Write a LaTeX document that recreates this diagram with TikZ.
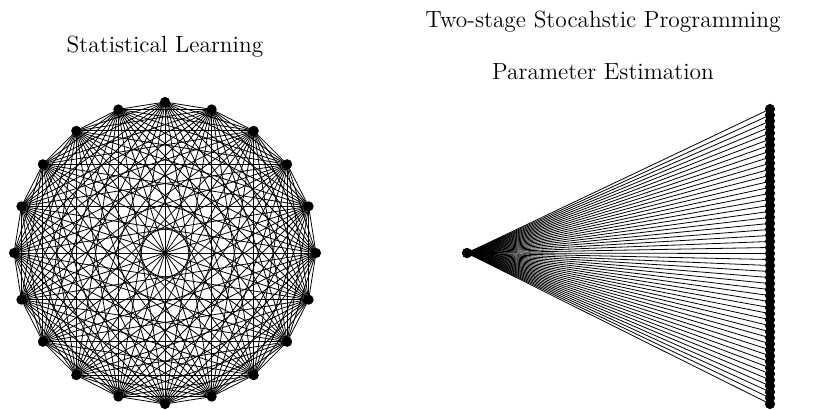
\documentclass[tikz,border=0pt]{standalone}
\begin{document}
\begin{tikzpicture}[x=0.5pt,y=-0.5pt,
  vtx/.style={circle,fill=black,draw=black,inner sep=0pt,minimum size=4.6pt},
  edge/.style={draw=black,line width=0.4pt},
  title/.style={font=\fontsize{11.7}{13}\selectfont}]
\useasboundingbox (0,0) rectangle (826,409);
% left complete graph
\foreach \k in {1,...,20}{
  \coordinate (l\k) at ({165+151*cos(90+18*(\k-1))},{253-151*sin(90+18*(\k-1))});
}
\foreach \i in {1,...,20}{
  \foreach \j in {\i,...,20}{
    \ifnum\i<\j \draw[edge] (l\i) -- (l\j);\fi
  }
}
\foreach \k in {1,...,20}{ \node[vtx] (L\k) at (l\k) {}; }
% right star
\node[vtx] (c) at (467,253) {};
\foreach \k in {1,...,50}{
  \coordinate (r\k) at (770,{109+295*(\k-1)/49});
  \draw[edge] (c.center) -- (r\k);
}
\foreach \k in {1,...,50}{ \node[vtx] (R\k) at (r\k) {}; }
\node[vtx] at (467,253) {};
% titles
\node[title] (t1) at (165,47) {Statistical Learning};
\node[title] (t2) at (603,22) {Two-stage Stocahstic Programming};
\node[title] (t3) at (603,72) {Parameter Estimation};
\end{tikzpicture}
\end{document}
